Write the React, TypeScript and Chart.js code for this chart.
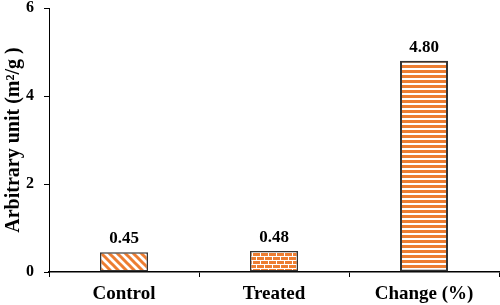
import React, { useEffect, useRef } from "react";
import { Chart, registerables } from "chart.js";

Chart.register(...registerables);

const categories = ["Control", "Treated", "Change (%)"];
const values = [0.45, 0.48, 4.8];
const valueLabels = ["0.45", "0.48", "4.80"];
const yTicks = [0, 2, 4, 6];

const ORANGE = "#ED7D31";
const FONT = "'Liberation Serif', 'Times New Roman', serif";

function makeDiagonal(): CanvasPattern | string {
  const c = document.createElement("canvas");
  c.width = 8; c.height = 8;
  const g = c.getContext("2d")!;
  g.fillStyle = "#fff"; g.fillRect(0, 0, 8, 8);
  g.strokeStyle = ORANGE; g.lineWidth = 3;
  g.beginPath();
  g.moveTo(-2, -2); g.lineTo(10, 10);
  g.moveTo(-10, -2); g.lineTo(2, 10);
  g.moveTo(6, -2); g.lineTo(18, 10);
  g.stroke();
  return g.createPattern(c, "repeat") || ORANGE;
}

function makeBrick(): CanvasPattern | string {
  const c = document.createElement("canvas");
  c.width = 8; c.height = 8;
  const g = c.getContext("2d")!;
  g.fillStyle = ORANGE; g.fillRect(0, 0, 8, 8);
  g.fillStyle = "#fff";
  g.fillRect(0, 0, 8, 1);
  g.fillRect(0, 4, 8, 1);
  g.fillRect(0, 0, 1, 4);
  g.fillRect(4, 4, 1, 4);
  return g.createPattern(c, "repeat") || ORANGE;
}

function makeHorizontal(): CanvasPattern | string {
  const c = document.createElement("canvas");
  c.width = 4; c.height = 5;
  const g = c.getContext("2d")!;
  g.fillStyle = "#fff"; g.fillRect(0, 0, 4, 5);
  g.fillStyle = ORANGE; g.fillRect(0, 0, 4, 3);
  return g.createPattern(c, "repeat") || ORANGE;
}

const valueLabelPlugin = {
  id: "valueLabels",
  afterDatasetsDraw(chart: any) {
    const ctx = chart.ctx;
    const meta = chart.getDatasetMeta(0);
    ctx.save();
    ctx.font = `bold 17px ${FONT}`;
    ctx.fillStyle = "#000";
    ctx.textAlign = "center";
    ctx.textBaseline = "alphabetic";
    meta.data.forEach((bar: any, i: number) => {
      ctx.fillText(valueLabels[i], bar.x, bar.y - 9);
    });
    ctx.restore();
  },
};

export default function App() {
  const ref = useRef<HTMLCanvasElement>(null);
  useEffect(() => {
    if (!ref.current) return;
    const chart = new Chart(ref.current, {
      type: "bar",
      data: {
        labels: categories,
        datasets: [
          {
            data: values,
            backgroundColor: [makeDiagonal(), makeBrick(), makeHorizontal()] as any,
            borderColor: "#333",
            borderWidth: [1.5, 1.5, 2],
            borderSkipped: false,
            categoryPercentage: 1,
            barPercentage: 0.32,
          },
        ],
      },
      options: {
        responsive: false,
        animation: false,
        layout: { padding: { top: 8, right: 1, left: 0, bottom: 0 } },
        plugins: { legend: { display: false }, tooltip: { enabled: false } },
        scales: {
          x: {
            offset: true,
            grid: { display: true, drawOnChartArea: false, drawTicks: true, tickLength: 5, color: "#000", offset: true },
            border: { display: true, color: "#000", width: 1.5 },
            ticks: { color: "#000", font: { family: FONT, size: 19, weight: "bold" }, padding: 6 },
            afterFit: (s: any) => { s.height = 33; },
          },
          y: {
            min: 0,
            max: 6,
            afterBuildTicks: (s: any) => { s.ticks = yTicks.map((v) => ({ value: v })); },
            grid: { display: true, drawOnChartArea: false, drawTicks: true, tickLength: 5, color: "#000" },
            border: { display: true, color: "#000", width: 1 },
            ticks: { color: "#000", font: { family: FONT, size: 16, weight: "bold" }, padding: 10 },
            title: {
              display: true,
              text: "Arbitrary unit (m²/g )",
              color: "#000",
              font: { family: FONT, size: 20, weight: "bold" },
              padding: { top: 2, bottom: 0 },
            },
            afterFit: (s: any) => {
              s.width = 49;
              s.paddingTop = 0;
              s.paddingBottom = 0;
            },
          },
        },
      },
      plugins: [valueLabelPlugin],
    });
    return () => chart.destroy();
  }, []);
  return (
    <div style={{ position: "fixed", left: 0, top: 0, width: 500, height: 305, background: "#fff" }}>
      <canvas ref={ref} width={500} height={305} style={{ display: "block" }} />
    </div>
  );
}
